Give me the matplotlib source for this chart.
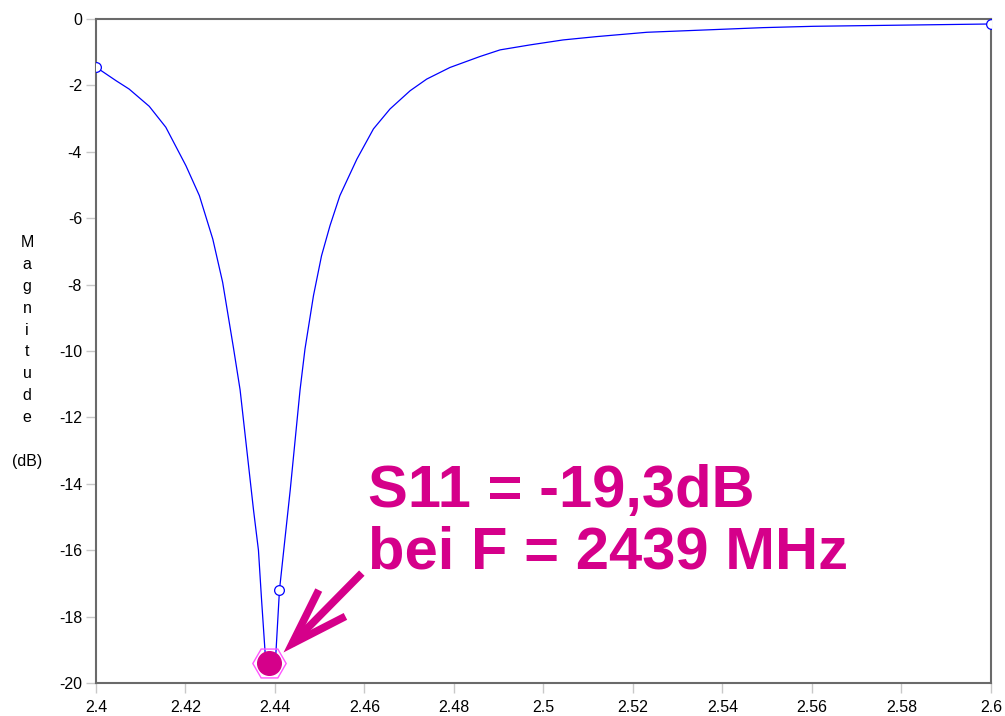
import matplotlib
matplotlib.use("Agg")
import matplotlib.pyplot as plt
from matplotlib.patches import ArrowStyle

plt.rcParams['font.family'] = ['Liberation Sans', 'DejaVu Sans']

# Data (frequency in GHz, magnitude in dB)
freq = [2.4000, 2.4045, 2.4074, 2.4119, 2.4156, 2.4201, 2.4231, 2.4261, 2.4283,
        2.4307, 2.4322, 2.4337, 2.4352, 2.4363, 2.4370, 2.4378, 2.4387, 2.4402,
        2.4410, 2.4422, 2.4434, 2.4445, 2.4456, 2.4467, 2.4486, 2.4504, 2.4523,
        2.4545, 2.4583, 2.4620, 2.4657, 2.4702, 2.4739, 2.4791, 2.4858, 2.4903,
        2.4970, 2.5044, 2.5119, 2.5231, 2.5380, 2.5491, 2.5603, 2.5715, 2.6000]
mag = [-1.45, -1.86, -2.11, -2.63, -3.26, -4.42, -5.32, -6.63, -7.93,
       -9.89, -11.17, -12.98, -14.79, -16.0, -17.5, -19.1, -19.4, -19.1,
       -17.2, -15.69, -14.19, -12.68, -11.17, -9.94, -8.33, -7.13, -6.22,
       -5.32, -4.22, -3.31, -2.71, -2.16, -1.81, -1.46, -1.13, -0.93,
       -0.78, -0.63, -0.53, -0.40, -0.32, -0.26, -0.22, -0.20, -0.15]

# open circle markers on the trace
marker_f = [2.4000, 2.4410, 2.6000]
marker_m = [-1.45, -17.2, -0.15]

# minimum marker
min_f = [2.4387]
min_m = [-19.4]

xticks = [2.40, 2.42, 2.44, 2.46, 2.48, 2.50, 2.52, 2.54, 2.56, 2.58, 2.60]
xticklabels = ['2.4', '2.42', '2.44', '2.46', '2.48', '2.5', '2.52', '2.54', '2.56', '2.58', '2.6']
yticks = [0, -2, -4, -6, -8, -10, -12, -14, -16, -18, -20]
yticklabels = ['0', '-2', '-4', '-6', '-8', '-10', '-12', '-14', '-16', '-18', '-20']

annot_line1 = 'S11 = -19,3dB'
annot_line2 = 'bei F = 2439 MHz'
ylabel_text = 'M\na\ng\nn\ni\nt\nu\nd\ne\n\n(dB)'

magenta = '#d5008a'

fig = plt.figure(figsize=(10.05, 7.16), dpi=100)
ax = fig.add_axes([96/1005, 1 - 683/716, (991-96)/1005, (683-19)/716])

ax.plot(freq, mag, color='#0000ff', lw=0.9, zorder=3)
ax.plot(marker_f, marker_m, ls='none', marker='o', ms=7, mfc='white',
        mec='#0000ff', mew=0.9, zorder=4)

ax.set_xlim(2.4, 2.6)
ax.set_ylim(-20, 0)
ax.set_xticks(xticks)
ax.set_xticklabels(xticklabels)
ax.set_yticks(yticks)
ax.set_yticklabels(yticklabels)
ax.tick_params(axis='both', which='major', direction='out', length=7,
               width=1, color='#c8c8c8', labelsize=11.5, labelcolor='black')
ax.tick_params(axis='y', pad=3)
ax.tick_params(axis='x', pad=5)

for s in ax.spines.values():
    s.set_color('#6a6a6a')
    s.set_linewidth(1.5)

# minimum marker: hexagon outline + filled circle
ax.plot(min_f, min_m, ls='none', marker='H', ms=24, mfc='none',
        mec='#ff55ff', mew=1.0, zorder=5, clip_on=False)
ax.plot(min_f, min_m, ls='none', marker='o', ms=17, mfc=magenta,
        mec=magenta, zorder=6, clip_on=False)

# arrow
ax.annotate('', xy=(2.4419, -19.08), xytext=(2.4594, -16.69),
            arrowprops=dict(arrowstyle=ArrowStyle('->', head_length=4.1, head_width=1.35),
                            mutation_scale=10, color=magenta, lw=5.5,
                            shrinkA=0, shrinkB=0, capstyle='butt',
                            joinstyle='miter'),
            zorder=7, annotation_clip=False)

# annotation text
ax.text(2.4608, -14.70, annot_line1, color=magenta, fontsize=43,
        fontweight='bold', ha='left', va='baseline', zorder=8)
ax.text(2.4608, -16.54, annot_line2, color=magenta, fontsize=43,
        fontweight='bold', ha='left', va='baseline', zorder=8)

# stacked y label
fig.text(27/1005, 1 - 352/716, ylabel_text, ha='center', va='center',
         multialignment='center', fontsize=11.5, linespacing=1.57)

fig.savefig('out.png', dpi=100)
